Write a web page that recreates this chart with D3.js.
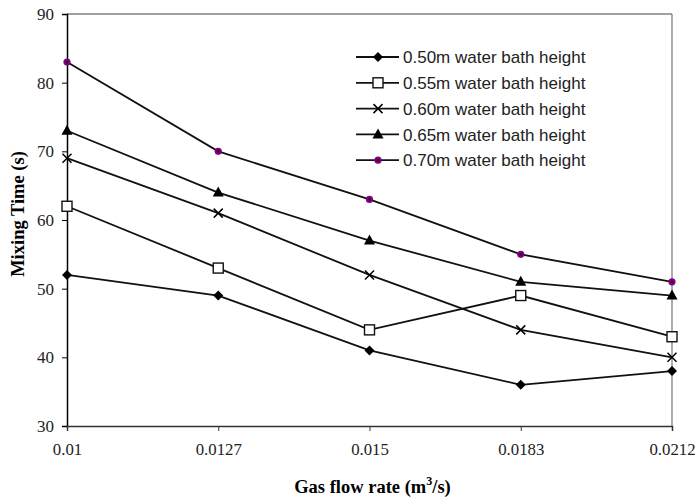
<!DOCTYPE html>
<html>
<head>
<meta charset="utf-8">
<script src="https://cdn.jsdelivr.net/npm/d3@7"></script>
<style>
  html, body { margin: 0; padding: 0; background: #fff; }
  svg { display: block; }
</style>
</head>
<body>
<svg id="chart" width="697" height="498"></svg>
<script>
// Gas flow rates (m^3/s), plotted as evenly spaced categories
const flowRates = ["0.01", "0.0127", "0.015", "0.0183", "0.0212"];
const yTicks = [30, 40, 50, 60, 70, 80, 90];

// Mixing time (s) for each water bath height
const bath050 = [52, 49, 41, 36, 38];
const bath055 = [62, 53, 44, 49, 43];
const bath060 = [69, 61, 52, 44, 40];
const bath065 = [73, 64, 57, 51, 49];
const bath070 = [83, 70, 63, 55, 51];

const seriesNames = [
  "0.50m water bath height",
  "0.55m water bath height",
  "0.60m water bath height",
  "0.65m water bath height",
  "0.70m water bath height"
];
const seriesValues = [bath050, bath055, bath060, bath065, bath070];
const markerKinds = ["diamond", "square", "cross", "triangle", "dot"];

const svg = d3.select("#chart");
const plotL = 67, plotR = 672, plotT = 14, plotB = 426;

const x = d3.scalePoint().domain(flowRates).range([plotL, plotR]);
const y = d3.scaleLinear().domain([30, 90]).range([plotB, plotT]);

// Plot frame: grey top and right edges
svg.append("line").attr("x1", plotL).attr("x2", plotR).attr("y1", plotT).attr("y2", plotT)
  .attr("stroke", "#808080").attr("stroke-width", 1.3);
svg.append("line").attr("x1", plotR).attr("x2", plotR).attr("y1", plotT).attr("y2", plotB)
  .attr("stroke", "#808080").attr("stroke-width", 1.3);

const serif = "'Liberation Serif', 'Times New Roman', serif";
const sans = "'Liberation Sans', Arial, sans-serif";

// Y axis
const yAxis = svg.append("g").attr("transform", `translate(${plotL},0)`)
  .call(d3.axisLeft(y).tickValues(yTicks).tickSize(5).tickPadding(8));
yAxis.select(".domain").attr("stroke", "#000").attr("stroke-width", 1.5);
yAxis.selectAll(".tick line").attr("stroke", "#000").attr("stroke-width", 1);
yAxis.selectAll("text").attr("font-family", serif).attr("font-size", 17).attr("fill", "#222");

// X axis
const xAxis = svg.append("g").attr("transform", `translate(0,${plotB})`)
  .call(d3.axisBottom(x).tickSize(5).tickPadding(12));
xAxis.select(".domain").attr("stroke", "#333").attr("stroke-width", 1.5);
xAxis.selectAll(".tick line").attr("stroke", "#333").attr("stroke-width", 1);
xAxis.selectAll("text").attr("font-family", serif).attr("font-size", 16.8).attr("fill", "#222");

// Axis titles
svg.append("text")
  .attr("transform", `translate(24,${(plotT + plotB) / 2 - 6}) rotate(-90)`)
  .attr("text-anchor", "middle")
  .attr("font-family", serif).attr("font-weight", "bold").attr("font-size", 18.5)
  .text("Mixing Time (s)");

const xt = svg.append("text")
  .attr("x", (plotL + plotR) / 2 + 3).attr("y", 493)
  .attr("text-anchor", "middle")
  .attr("font-family", serif).attr("font-weight", "bold").attr("font-size", 18.5);
xt.append("tspan").text("Gas flow rate (m");
xt.append("tspan").attr("font-size", 12).attr("dy", -8).text("3");
xt.append("tspan").attr("dy", 8).text("/s)");

// Marker drawing
function drawMarker(g, kind, cx, cy) {
  if (kind === "diamond") {
    g.append("path").attr("d", `M${cx},${cy - 5}L${cx + 5},${cy}L${cx},${cy + 5}L${cx - 5},${cy}Z`)
      .attr("fill", "#000");
  } else if (kind === "square") {
    g.append("rect").attr("x", cx - 5).attr("y", cy - 5).attr("width", 10).attr("height", 10)
      .attr("fill", "#fff").attr("stroke", "#111").attr("stroke-width", 1.4);
  } else if (kind === "cross") {
    g.append("path").attr("d", `M${cx - 4.5},${cy - 4.5}L${cx + 4.5},${cy + 4.5}M${cx - 4.5},${cy + 4.5}L${cx + 4.5},${cy - 4.5}`)
      .attr("stroke", "#000").attr("stroke-width", 1.5).attr("fill", "none");
  } else if (kind === "triangle") {
    g.append("path").attr("d", `M${cx},${cy - 6}L${cx + 5.5},${cy + 4}L${cx - 5.5},${cy + 4}Z`)
      .attr("fill", "#000");
  } else if (kind === "dot") {
    g.append("circle").attr("cx", cx).attr("cy", cy).attr("r", 3.6).attr("fill", "#800080");
    g.append("circle").attr("cx", cx).attr("cy", cy).attr("r", 1.4).attr("fill", "#300030");
  }
}

const line = d3.line().x((d, i) => x(flowRates[i])).y(d => y(d));

seriesValues.forEach((vals, s) => {
  const g = svg.append("g");
  g.append("path").datum(vals).attr("d", line)
    .attr("fill", "none").attr("stroke", "#111").attr("stroke-width", 1.8);
  vals.forEach((v, i) => drawMarker(g, markerKinds[s], x(flowRates[i]), y(v)));
});

// Legend
const legend = svg.append("g");
seriesNames.forEach((name, s) => {
  const ly = 57 + s * 25.8;
  legend.append("line").attr("x1", 356).attr("x2", 399).attr("y1", ly).attr("y2", ly)
    .attr("stroke", "#111").attr("stroke-width", 1.8);
  drawMarker(legend, markerKinds[s], 378, ly);
  legend.append("text").attr("x", 403).attr("y", ly).attr("dy", "0.36em")
    .attr("font-family", sans).attr("font-size", 17).attr("fill", "#222")
    .text(name);
});
</script>
</body>
</html>
